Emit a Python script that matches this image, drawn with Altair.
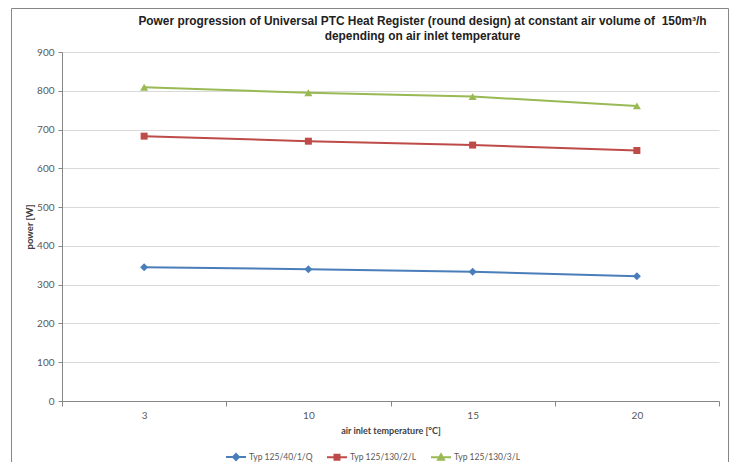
import altair as alt
import pandas as pd

# ---- data ----
temps = ["3", "10", "15", "20"]
series = ["Typ 125/40/1/Q", "Typ 125/130/2/L", "Typ 125/130/3/L"]
power_q40 = [345, 340, 333, 322]
power_l130_2 = [683, 670, 660, 646]
power_l130_3 = [809, 795, 785, 761]
y_ticks = [0, 100, 200, 300, 400, 500, 600, 700, 800, 900]

title_lines = [
    "Power progression of Universal PTC Heat Register (round design) at constant air volume of \u00a0150m\u00b3/h",
    "depending on air inlet temperature",
]
x_title = "air inlet temperature [\u00b0C]"
y_title = "power [W]"

# ---- styles ----
colors = ["#4a7ebb", "#be4b48", "#98b954"]
markers = ["diamond", "square", "triangle-up"]
marker_sizes = [64, 49, 64]
legend_paths = [
    "M-1,0H1M0,-0.3L0.3,0L0,0.3L-0.3,0Z",
    "M-1,0H1M-0.25,-0.25H0.25V0.25H-0.25Z",
    "M-1,0H1M0,-0.3L0.3,0.25H-0.3Z",
]

rows = []
for s, vals in zip(series, [power_q40, power_l130_2, power_l130_3]):
    for t, v in zip(temps, vals):
        rows.append({"temp": t, "series": s, "power": v})
df = pd.DataFrame(rows)

FONT = "Lato"

x_enc = alt.X(
    "temp:N",
    sort=temps,
    bandPosition=0.5,
    scale=alt.Scale(type="band", paddingInner=0, paddingOuter=0),
    axis=alt.Axis(
        title=x_title,
        labelAngle=0,
        tickBand="extent",
        tickSize=5,
        labelPadding=4,
        titlePadding=6,
        domainColor="#868686",
        tickColor="#868686",
        labelColor="#595959",
        labelFontSize=10,
        labelFont=FONT,
        titleFont=FONT,
        titleFontSize=9,
        titleFontWeight="bold",
        titleColor="#404040",
        grid=False,
    ),
)
y_enc = alt.Y(
    "power:Q",
    scale=alt.Scale(domain=[0, 900], nice=False),
    axis=alt.Axis(
        title=y_title,
        values=y_ticks,
        tickSize=4,
        labelPadding=4,
        titlePadding=2,
        domainColor="#868686",
        tickColor="#868686",
        gridColor="#d9d9d9",
        labelColor="#595959",
        labelFontSize=10,
        labelFont=FONT,
        titleFont=FONT,
        titleFontSize=9.5,
        titleFontWeight="bold",
        titleColor="#404040",
    ),
)

# one shared legend (merged over color / fill / stroke / shape)
leg = alt.Legend(title=None, orient="none", legendX=163, legendY=394, direction="horizontal")

base = alt.Chart(df)

lines = base.mark_line(strokeWidth=2).encode(
    x=x_enc,
    y=y_enc,
    color=alt.Color("series:N", scale=alt.Scale(domain=series, range=colors), legend=leg),
)

point_layers = []
for s, c, m, sz in zip(series, colors, markers, marker_sizes):
    point_layers.append(
        base.transform_filter(alt.datum.series == s)
        .mark_point(filled=True, shape=m, size=sz, color=c, opacity=1)
        .encode(x=x_enc, y=y_enc)
    )

# invisible layer that only feeds the legend (line + marker symbols)
legend_layer = (
    base.mark_point(filled=True, opacity=0, strokeWidth=2, size=400)
    .encode(
        x=x_enc,
        y=y_enc,
        fill=alt.Fill("series:N", scale=alt.Scale(domain=series, range=colors), legend=leg),
        stroke=alt.Stroke("series:N", scale=alt.Scale(domain=series, range=colors), legend=leg),
        shape=alt.Shape("series:N", scale=alt.Scale(domain=series, range=legend_paths), legend=leg),
    )
)

frame = (
    alt.Chart(alt.Data(values=[{}]))
    .mark_rect(fill="transparent", stroke="#868686", strokeWidth=1)
    .encode(
        x=alt.value(-50.5),
        x2=alt.value(666.5),
        y=alt.value(-43.5),
        y2=alt.value(430),
    )
)

chart = (
    alt.layer(frame, lines, *point_layers, legend_layer)
    .properties(
        width=657,
        height=349,
        autosize=alt.AutoSizeParams(type="none"),
        padding={"left": 54, "top": 44, "right": 10, "bottom": 61},
        title=alt.TitleParams(
            text=title_lines,
            font="Liberation Sans",
            fontSize=11.9,
            fontWeight="bold",
            color="#222222",
            anchor="middle",
            dx=32,
            dy=45,
            offset=10,
            lineHeight=15,
        ),
    )
    .configure_view(strokeWidth=0)
    .configure_legend(
        symbolSize=400,
        symbolStrokeWidth=2,
        symbolOpacity=1,
        labelFont=FONT,
        labelFontSize=8.5,
        labelColor="#595959",
        labelOffset=2,
        columnPadding=10,
        gridAlign="each",
    )
)

chart.save("out.html", embed_options={"renderer": "svg", "actions": False})
